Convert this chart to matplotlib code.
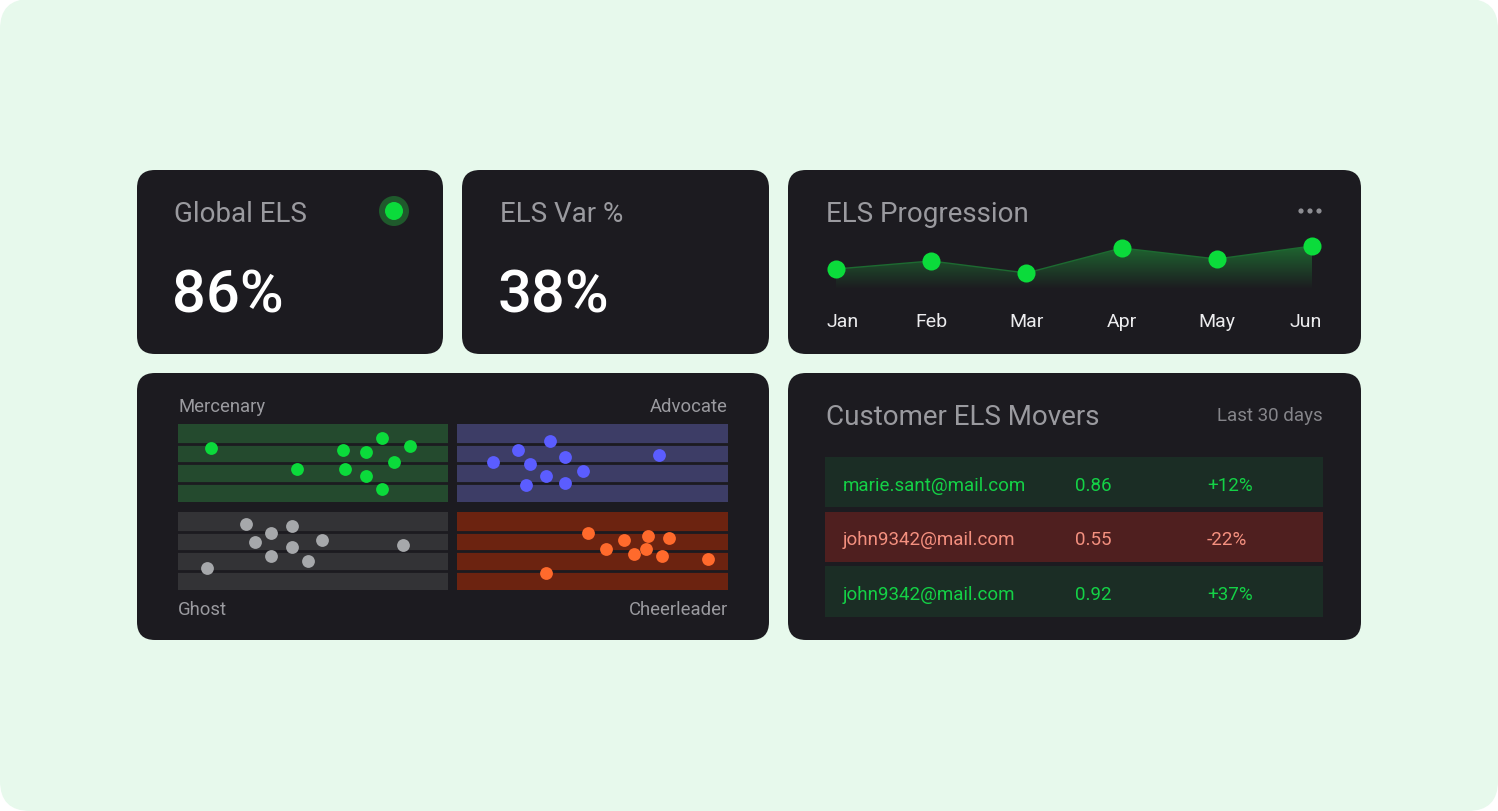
import numpy as np
import matplotlib.pyplot as plt
import matplotlib.transforms as mtransforms
from matplotlib.patches import FancyBboxPatch, Circle
from matplotlib.colors import LinearSegmentedColormap

plt.rcParams['font.family'] = ['Roboto', 'DejaVu Sans']

W, H = 1498, 812

# --- data -------------------------------------------------------------
global_els = 86
els_var = 38

months = ['Jan', 'Feb', 'Mar', 'Apr', 'May', 'Jun']
progression = [70, 74, 68, 80.5, 75, 81.5]

# segment scatter: x = engagement (0-100), y = band position (0-4)
mercenary_x = [12.2, 75.7, 85.9, 61.0, 69.6, 79.9, 44.0, 62.0, 69.6, 75.7]
mercenary_y = [2.77, 3.27, 2.89, 2.65, 2.55, 2.07, 1.71, 1.71, 1.35, 0.65]
advocate_x = [34.5, 22.5, 13.2, 26.9, 39.7, 74.6, 46.5, 32.9, 39.7, 25.3]
advocate_y = [3.13, 2.65, 2.07, 1.95, 2.31, 2.43, 1.59, 1.35, 0.99, 0.87]
ghost_x = [25.2, 42.2, 34.6, 28.6, 53.3, 42.2, 83.3, 34.6, 48.3, 10.6]
ghost_y = [3.40, 3.27, 2.92, 2.45, 2.56, 2.21, 2.32, 1.73, 1.49, 1.13]
cheer_x = [48.2, 70.3, 78.1, 61.8, 55.0, 69.6, 65.2, 75.6, 92.5, 32.8]
cheer_y = [2.92, 2.78, 2.67, 2.56, 2.09, 2.09, 1.85, 1.73, 1.61, 0.89]

movers_email = ['marie.sant@mail.com', 'john9342@mail.com', 'john9342@mail.com']
movers_score = [0.86, 0.55, 0.92]
movers_change = [12, -22, 37]

# --- colours ----------------------------------------------------------
BG = '#e7f9ec'
CARD = '#1c1b20'
TITLE = '#9a9a9f'
GREEN = '#0bdb3b'

fig = plt.figure(figsize=(W / 100, H / 100), dpi=100)
fig.patch.set_facecolor('white')

bg = fig.add_axes([0, 0, 1, 1])
bg.set_xlim(0, W)
bg.set_ylim(H, 0)
bg.axis('off')
bg.add_patch(FancyBboxPatch((0, 0), W, H, boxstyle='round,pad=0,rounding_size=30',
                            fc=BG, ec='none'))


def card(x0, y0, x1, y1):
    bg.add_patch(FancyBboxPatch((x0, y0), x1 - x0, y1 - y0,
                                boxstyle='round,pad=0,rounding_size=18',
                                fc=CARD, ec='none'))


def px_axes(x0, y0, x1, y1):
    return fig.add_axes([x0 / W, 1 - y1 / H, (x1 - x0) / W, (y1 - y0) / H])


def clean(ax):
    ax.set_xticks([])
    ax.set_yticks([])
    for s in ax.spines.values():
        s.set_visible(False)


card(137, 171, 443, 355)
card(462, 171, 769, 355)
card(788, 171, 1361, 355)
card(137, 374, 769, 641)
card(788, 374, 1361, 641)

# KPI cards
bg.text(174, 222, 'Global ELS', fontsize=20, color=TITLE, va='baseline')
bg.text(172, 313, f'{global_els}%', fontsize=43, color='white', va='baseline',
        fontweight='medium')
bg.add_patch(Circle((394, 212), 15, fc='#1f5a2c', ec='none'))
bg.add_patch(Circle((394, 212), 9, fc=GREEN, ec='none'))

bg.text(500, 222, 'ELS Var %', fontsize=20, color=TITLE, va='baseline')
bg.text(498, 313, f'{els_var}%', fontsize=43, color='white', va='baseline',
        fontweight='medium')

# progression card
bg.text(826, 222, 'ELS Progression', fontsize=20, color=TITLE, va='baseline')
for dx in (1301, 1310, 1319):
    bg.add_patch(Circle((dx, 212), 2.6, fc='#8d8d92', ec='none'))

ax = px_axes(836, 240, 1312, 290)
ax.set_xlim(0, 5)
ax.set_ylim(60, 85)
ax.patch.set_alpha(0)
xs = np.arange(len(months))
poly = ax.fill_between(xs, progression, 60, color='none', lw=0)
cmap = LinearSegmentedColormap.from_list('fade', [CARD, '#1f7233'])
im = ax.imshow(np.linspace(0, 1, 256).reshape(-1, 1), extent=[0, 5, 60, 85],
               origin='lower', aspect='auto', cmap=cmap, zorder=1)
im.set_clip_path(poly.get_paths()[0], transform=ax.transData)
ax.plot(xs, progression, color='#1d6a31', lw=1.0, zorder=2)
ax.plot(xs, progression, 'o', ms=13, color=GREEN, mec='none', zorder=3, clip_on=False)
ax.set_xticks(xs, months)
ax.set_yticks([])
ax.tick_params(axis='x', length=0, pad=26.5, labelsize=14, labelcolor='#ececee')
labels = ax.get_xticklabels()
for lbl in labels:
    lbl.set_va('baseline')
# first and last month labels sit slightly inside the card edges
labels[0].set_transform(labels[0].get_transform() +
                        mtransforms.ScaledTranslation(7 / 100, 0, fig.dpi_scale_trans))
labels[-1].set_transform(labels[-1].get_transform() +
                         mtransforms.ScaledTranslation(-6 / 100, 0, fig.dpi_scale_trans))
for s in ax.spines.values():
    s.set_visible(False)

# segment quadrants
quadrants = [
    (178, 425, 448, 503, mercenary_x, mercenary_y, '#244a2e', GREEN),
    (457, 425, 728, 503, advocate_x, advocate_y, '#3d3d66', '#5b5dff'),
    (178, 513, 448, 591, ghost_x, ghost_y, '#333336', '#a6a8ab'),
    (457, 513, 728, 591, cheer_x, cheer_y, '#6c2310', '#ff6a2c'),
]
for x0, y0, x1, y1, qx, qy, band, dot in quadrants:
    q = px_axes(x0, y0, x1, y1)
    q.set_xlim(0, 100)
    q.set_ylim(0, 4)
    q.set_facecolor(band)
    for yl in (1, 2, 3):
        q.axhline(yl, color=CARD, lw=2)
    q.scatter(qx, qy, s=85, color=dot, linewidths=0, zorder=3, clip_on=False)
    clean(q)

bg.text(178, 412, 'Mercenary', fontsize=13.3, color=TITLE, va='baseline')
bg.text(728, 412, 'Advocate', fontsize=13.3, color=TITLE, va='baseline', ha='right')
bg.text(178, 615.5, 'Ghost', fontsize=13.3, color=TITLE, va='baseline')
bg.text(728, 615.5, 'Cheerleader', fontsize=13.3, color=TITLE, va='baseline', ha='right')

# movers table
bg.text(826, 425.5, 'Customer ELS Movers', fontsize=20, color=TITLE, va='baseline')
bg.text(1323, 421, 'Last 30 days', fontsize=13.5, color='#85858a', va='baseline', ha='right')

t = px_axes(825, 455.6, 1323, 620)
t.set_xlim(0, 1)
t.set_ylim(2.5, -0.5)
t.patch.set_alpha(0)
rows = np.arange(len(movers_email))
row_bg = ['#1b2d25' if c > 0 else '#4f1f1f' for c in movers_change]
row_fg = ['#14d146' if c > 0 else '#f4907f' for c in movers_change]
t.barh(rows, 1, left=0, height=0.92, color=row_bg)
for i in rows:
    y = i + 0.14
    t.text(0.036, y, movers_email[i], fontsize=13.5, color=row_fg[i], va='baseline')
    t.text(0.502, y, f'{movers_score[i]:.2f}', fontsize=13.5, color=row_fg[i], va='baseline')
    t.text(0.767, y, f'{movers_change[i]:+d}%', fontsize=13.5, color=row_fg[i], va='baseline')
clean(t)

fig.savefig('out.png', dpi=100, facecolor=fig.get_facecolor())
